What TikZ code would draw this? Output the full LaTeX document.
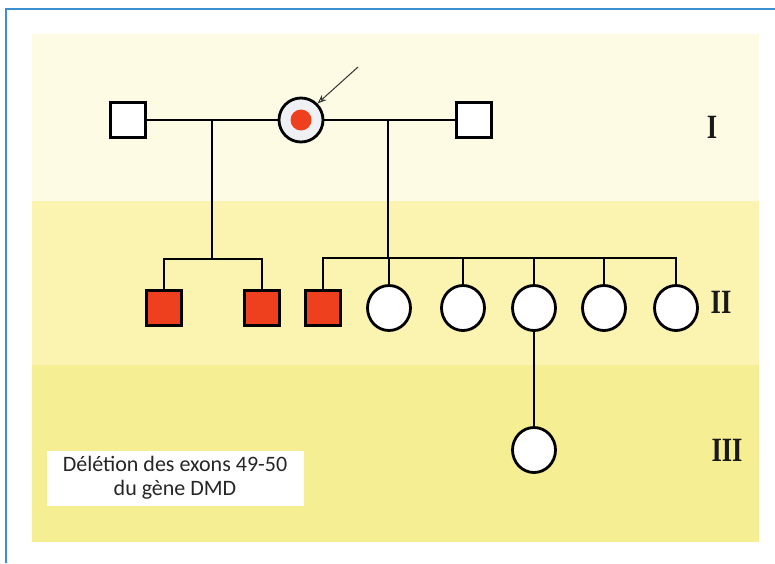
\documentclass[tikz,border=0pt]{standalone}
\usepackage{fontspec}
\newfontfamily\boxfont{Carlito}
\newfontfamily\romfont{Liberation Serif}
\definecolor{bandA}{HTML}{FDFBE3}
\definecolor{bandB}{HTML}{FAF4B0}
\definecolor{bandC}{HTML}{F5EE92}
\definecolor{frameblue}{HTML}{3C8FD0}
\definecolor{affred}{HTML}{EE3F1E}
\definecolor{probfill}{HTML}{EEF0F4}
\tikzset{
  male/.style={draw=black, line width=2.8pt, fill=white, minimum width=35pt, minimum height=35pt, inner sep=0pt},
  affmale/.style={male, fill=affred},
  female/.style={draw=black, line width=2.8pt, fill=white, ellipse, minimum width=43pt, minimum height=45pt, inner sep=0pt},
  link/.style={draw=black, line width=2pt},
  gen/.style={font=\romfont\bfseries\fontsize{34}{34}\selectfont, xscale=0.78, text=black!90},
}
\usetikzlibrary{shapes.geometric,arrows.meta}
\begin{document}
\begin{tikzpicture}[x=1pt,y=-1pt]
\useasboundingbox (0,0) rectangle (775,563);
\fill[white] (0,0) rectangle (775,563);
% bands
\fill[bandA] (32,34) rectangle (759,201);
\fill[bandB] (32,201) rectangle (759,365);
\fill[bandC] (32,365) rectangle (759,542);
% frame
\draw[frameblue, line width=1.6pt] (6,563) -- (6,9) -- (775,9);
% generation I
\node[male] (m1) at (128,120) {};
\node[female, minimum width=44pt, minimum height=44pt, fill=probfill] (p) at (301,120) {};
\node[circle, fill=affred, minimum size=21pt, inner sep=0pt] (pd) at (301,120) {};
\node[male] (m2) at (474,120) {};
\coordinate (a1) at (212,120);
\coordinate (a2) at (388,120);
\draw[link] (m1.east) -- (p.west);
\draw[link] (p.east) -- (m2.west);
% generation II
\node[affmale] (s1) at (164,308) {};
\node[affmale] (s2) at (262,308) {};
\node[affmale] (s3) at (323,308) {};
\node[female] (d1) at (389,308) {};
\node[female] (d2) at (463,308) {};
\node[female] (d3) at (534,308) {};
\node[female] (d4) at (604,308) {};
\node[female] (d5) at (676,308) {};
\coordinate (l1) at (212,259);
\coordinate (l2) at (389,258);
\draw[link] (a1) -- (l1);
\draw[link] (s1.north) |- (l1) -| (s2.north);
\draw[link] (a2) -- (388,258);
\draw[link] (s3.north) |- (l2) -| (d5.north);
\draw[link] (d1.north) -- (l2);
\draw[link] (d2.north) -- (d2.north |- l2);
\draw[link] (d3.north) -- (d3.north |- l2);
\draw[link] (d4.north) -- (d4.north |- l2);
% generation III
\node[female] (g1) at (534,450) {};
\draw[link] (d3.south) -- (g1.north);
% arrow
\coordinate (arr) at (358,67);
\draw[gray!40!black, line width=1pt, -{Stealth[length=9pt,width=7pt,open]}] (arr) -- (p.45);
% generation labels
\node[gen] (gI) at (712,127) {I};
\node[gen] (gII) at (721,302) {II};
\node[gen] (gIII) at (727,450) {III};
% legend box
\node[fill=white, minimum width=257pt, minimum height=55pt, inner sep=0pt, align=center,
      font=\boxfont\fontsize{22}{24}\selectfont, text=black!85] (lg) at (175,478)
  {Délétion des exons 49-50\\du gène DMD};
\end{tikzpicture}
\end{document}
